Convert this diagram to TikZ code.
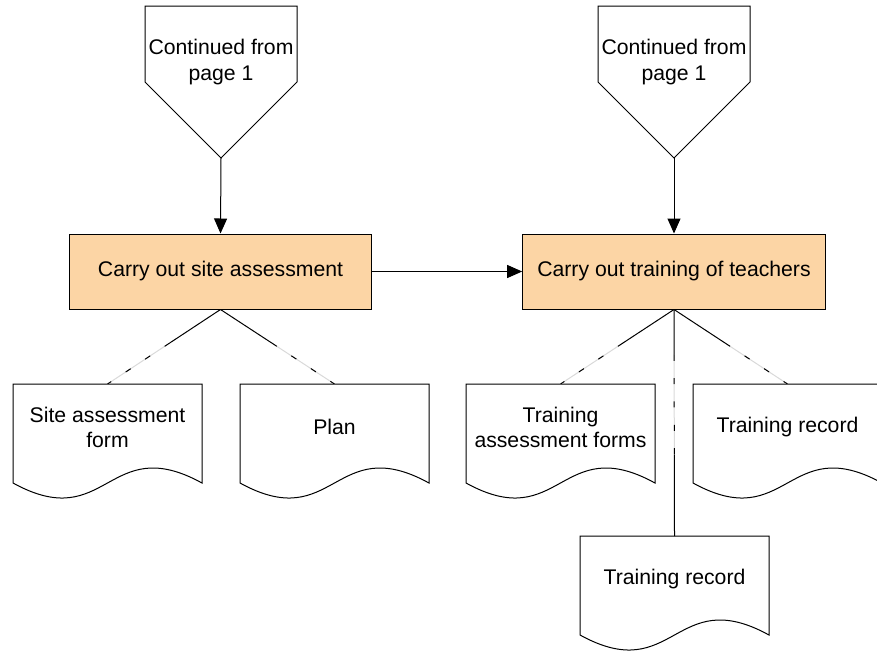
\documentclass[tikz,border=0pt]{standalone}
\usepackage{fontspec}
\setmainfont{Liberation Sans}
\usetikzlibrary{arrows.meta,calc}
\definecolor{boxfill}{RGB}{252,213,165}
\begin{document}
\begin{tikzpicture}[x=0.75pt,y=-0.75pt,
  every node/.style={font=\fontsize{15.9pt}{18.8pt}\selectfont, align=center, inner sep=0pt},
  line/.style={line width=0.75pt, black},
  arr/.style={line, -{Triangle[length=11.25pt,width=9.75pt]}},
  procbox/.style={draw=black, line width=0.75pt, fill=boxfill, minimum width=227pt, minimum height=56.25pt},
  shapeline/.style={draw=black, line width=0.75pt, fill=white, line join=miter},
  gaps/.style={line width=0.75pt, black!15},
  dashseg/.style={line width=0.75pt, black, dash pattern=on 4.5pt off 13pt}]
\useasboundingbox (0,0) rectangle (877,650);
\clip (0,0) rectangle (877,650);

% off-page connectors
\draw[shapeline] (145,6) -- (297,6) -- (297,82) -- (221,158) -- (145,82) -- cycle;
\node (op1) at (221,62) {Continued from\\page 1};
\coordinate (op1tip) at (221,158);
\draw[shapeline] (598,6) -- (750,6) -- (750,82) -- (674,158) -- (598,82) -- cycle;
\node (op2) at (674,62) {Continued from\\page 1};
\coordinate (op2tip) at (674,158);

% process boxes
\node[procbox] (b1) at (220.5,271.5) {Carry out site assessment};
\node[procbox] (b2) at (674,271.5) {Carry out training of teachers};

% documents
\newcommand{\docshape}[3]{%
  \draw[shapeline] (#1,#2) -- ++(189,0) -- ++(0,99)
    .. controls ($(#1,#2)+(94.5,47)$) and ($(#1,#2)+(94.5,151)$) .. ($(#1,#2)+(0,99)$) -- cycle;
  \coordinate (#3top) at ($(#1,#2)+(94.5,0)$);
  \coordinate (#3txt) at ($(#1,#2)+(94.5,43)$);
}
\docshape{13}{384}{d1}
\node (t1) at (d1txt) {Site assessment\\form};
\docshape{240}{384}{d2}
\node (t2) at (d2txt) {Plan};
\docshape{466}{384}{d3}
\node (t3) at (d3txt) {Training\\assessment forms};
\docshape{693}{384}{d4}
\node (t4) at (d4txt) {Training record};
\docshape{580}{536}{d5}
\node (t5) at (d5txt) {Training record};

% arrows
\draw[arr] (op1tip) -- (b1.north);
\draw[arr] (op2tip) -- (b2.north);
\draw[arr] (b1.east) -- (b2.west);

% association lines
\foreach \b/\d in {b1/d1, b1/d2, b2/d3, b2/d4} {
  \draw[line] (\b.south) -- ($(\b.south)!0.45!(\d top)$) coordinate (m);
  \draw[gaps] (m) -- (\d top);
  \draw[dashseg] (m) -- (\d top);
}
\draw[line] (b2.south) -- ($(b2.south)!0.2!(d5top)$) coordinate (v1);
\coordinate (v2) at ($(b2.south)!0.64!(d5top)$);
\draw[gaps] (v1) -- (v2);
\draw[dashseg] (v1) -- (v2);
\draw[line] (v2) -- (d5top);
\end{tikzpicture}
\end{document}
